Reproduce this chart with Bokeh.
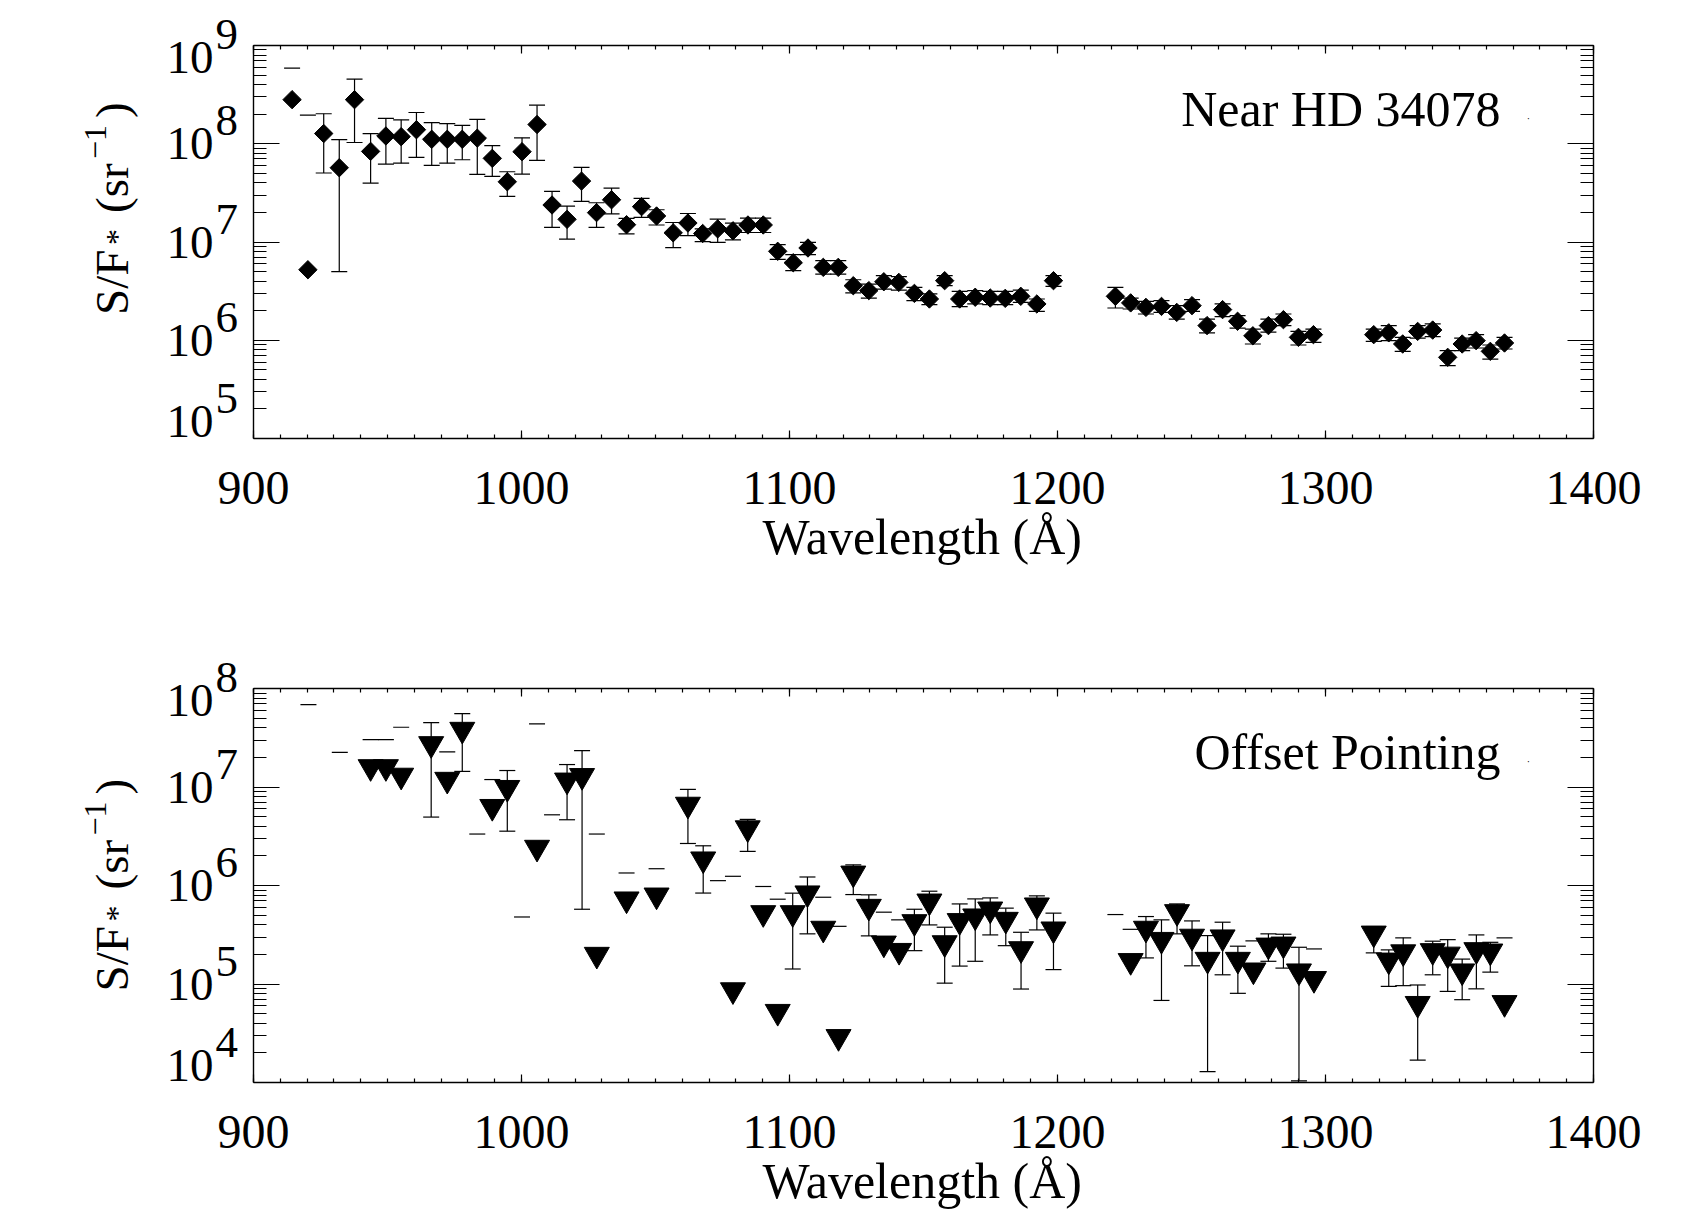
import math
from bokeh.plotting import figure
from bokeh.layouts import column
from bokeh.models import (FixedTicker, LinearAxis, LogAxis, Label, Range1d, Title,
                          ColumnDataSource, CustomJSTickFormatter)
from bokeh.embed import file_html
from bokeh.resources import INLINE

nan = float("nan")

# ---------------- data: top panel (Near HD 34078) ----------------
top_wave = [914.4, 920.3, 926.2, 932.0, 937.7, 943.7, 949.4, 955.1, 960.8, 966.5,
            972.3, 977.9, 983.5, 989.1, 994.7, 1000.2, 1005.8, 1011.4, 1017.0, 1022.4,
            1028.0, 1033.6, 1039.2, 1044.8, 1050.4, 1056.6, 1062.1, 1067.6, 1073.2, 1078.9,
            1084.5, 1090.2, 1095.6, 1101.4, 1106.9, 1112.6, 1118.2, 1123.8, 1129.6, 1135.2,
            1140.8, 1146.6, 1152.2, 1157.9, 1163.5, 1169.3, 1174.9, 1180.5, 1186.3, 1192.3,
            1198.5, 1221.6, 1227.3, 1233.0, 1238.8, 1244.5, 1250.2, 1255.8, 1261.6, 1267.2,
            1272.9, 1278.7, 1284.3, 1289.9, 1295.5, 1318.0, 1323.6, 1328.8, 1334.4, 1340.0,
            1345.6, 1351.0, 1356.2, 1361.5, 1366.8]
top_value = [2.81e8, 5.22e6, 1.27e8, 5.70e7, 2.81e8, 8.36e7, 1.20e8, 1.18e8, 1.39e8, 1.11e8,
             1.11e8, 1.11e8, 1.14e8, 7.10e7, 4.10e7, 8.30e7, 1.57e8, 2.38e7, 1.70e7, 4.17e7,
             1.99e7, 2.69e7, 1.50e7, 2.29e7, 1.84e7, 1.24e7, 1.56e7, 1.22e7, 1.36e7, 1.30e7,
             1.49e7, 1.49e7, 8.04e6, 6.15e6, 8.69e6, 5.52e6, 5.52e6, 3.59e6, 3.20e6, 3.94e6,
             3.88e6, 3.00e6, 2.63e6, 4.04e6, 2.63e6, 2.74e6, 2.69e6, 2.67e6, 2.80e6, 2.34e6,
             4.04e6, 2.80e6, 2.40e6, 2.16e6, 2.21e6, 1.92e6, 2.25e6, 1.41e6, 2.05e6, 1.56e6,
             1.11e6, 1.41e6, 1.62e6, 1.07e6, 1.14e6, 1.14e6, 1.19e6, 9.16e5, 1.23e6, 1.27e6,
             6.70e5, 9.16e5, 9.91e5, 7.71e5, 9.38e5]
top_upper = [5.89e8, 1.96e8, 2.02e8, 1.10e8, 4.55e8, 1.27e8, 1.81e8, 1.75e8, 2.08e8, 1.64e8,
             1.60e8, 1.54e8, 1.77e8, 9.55e7, 5.19e7, 1.15e8, 2.47e8, 3.27e7, 2.32e7, 5.74e7,
             2.51e7, 3.54e7, 1.74e7, 2.78e7, 2.13e7, 1.58e7, 1.95e7, 1.36e7, 1.71e7, 1.56e7,
             1.75e7, 1.75e7, 9.40e6, 7.43e6, 9.91e6, 6.46e6, 6.46e6, 4.13e6, 3.73e6, 4.54e6,
             4.44e6, 3.45e6, 2.96e6, 4.54e6, 3.15e6, 3.20e6, 3.15e6, 3.15e6, 3.24e6, 2.63e6,
             4.54e6, 3.45e6, 2.69e6, 2.49e6, 2.53e6, 2.25e6, 2.59e6, 1.64e6, 2.34e6, 1.78e6,
             1.30e6, 1.64e6, 1.85e6, 1.23e6, 1.30e6, 1.30e6, 1.41e6, 1.07e6, 1.41e6, 1.47e6,
             7.83e5, 1.05e6, 1.14e6, 8.95e5, 1.07e6]
top_lower = [nan, nan, 5.04e7, 4.99e6, 1.03e8, 3.98e7, 6.21e7, 6.35e7, 7.26e7, 6.03e7,
             6.35e7, 6.87e7, 4.88e7, 4.66e7, 2.91e7, 4.91e7, 6.78e7, 1.41e7, 1.07e7, 2.59e7,
             1.41e7, 1.93e7, 1.21e7, 1.78e7, 1.49e7, 8.75e6, 1.16e7, 1.01e7, 9.91e6, 1.05e7,
             1.25e7, 1.25e7, 6.65e6, 5.11e6, 7.43e6, 4.72e6, 4.72e6, 3.03e6, 2.69e6, 3.32e6,
             3.24e6, 2.53e6, 2.30e6, 3.59e6, 2.20e6, 2.34e6, 2.30e6, 2.30e6, 2.43e6, 1.97e6,
             3.54e6, 2.13e6, 2.08e6, 1.85e6, 1.92e6, 1.64e6, 1.97e6, 1.19e6, 1.74e6, 1.33e6,
             9.16e5, 1.21e6, 1.41e6, 8.95e5, 9.53e5, 9.75e5, 9.91e5, 7.71e5, 1.05e6, 1.09e6,
             5.52e5, 7.83e5, 8.34e5, 6.44e5, 8.15e5]

# ---------------- data: bottom panel (Offset Pointing) ----------------
bot_wave = [920.5, 932.2, 943.7, 949.4, 955.1, 966.3, 972.3, 977.9, 983.5, 989.1,
            994.7, 1000.2, 1005.8, 1011.4, 1017.0, 1022.6, 1028.1, 1039.2, 1050.4, 1062.1,
            1067.8, 1073.3, 1078.9, 1084.4, 1090.2, 1095.6, 1101.2, 1106.7, 1112.6, 1118.3,
            1123.8, 1129.6, 1135.2, 1140.9, 1146.6, 1152.2, 1157.9, 1163.5, 1169.3, 1174.9,
            1180.7, 1186.4, 1192.3, 1198.5, 1221.6, 1227.3, 1233.0, 1238.8, 1244.6, 1250.2,
            1256.0, 1261.6, 1267.3, 1273.1, 1278.7, 1284.3, 1290.1, 1295.7, 1318.0, 1323.6,
            1329.0, 1334.4, 1340.0, 1345.6, 1351.0, 1356.3, 1361.5, 1366.8]
bot_value = [nan, nan, 1.60e7, 1.60e7, 1.31e7, 2.74e7, 1.19e7, 3.83e7, nan, 6.31e6,
             9.84e6, nan, 2.43e6, nan, 1.17e7, 1.30e7, 1.99e5, 7.26e5, 7.96e5, 6.65e6,
             1.85e6, nan, 8.69e4, 3.83e6, 5.27e5, 5.24e4, 5.27e5, 8.36e5, 3.66e5, 2.91e4,
             1.33e6, 6.11e5, 2.59e5, 2.18e5, 4.27e5, 6.92e5, 2.61e5, 4.38e5, 4.88e5, 5.74e5,
             4.51e5, 2.27e5, 6.31e5, 3.60e5, nan, 1.72e5, 3.66e5, 2.82e5, 5.40e5, 3.04e5,
             1.77e5, 2.99e5, 1.77e5, 1.38e5, 2.47e5, 2.53e5, 1.35e5, 1.13e5, 3.27e5, 1.74e5,
             2.11e5, 6.31e4, 2.17e5, 2.00e5, 1.35e5, 2.22e5, 2.15e5, 6.44e4]
bot_upper = [6.87e7, 2.25e7, 3.03e7, 3.03e7, 4.04e7, 4.51e7, 2.27e7, 5.56e7, 3.33e6, 1.19e7,
             1.47e7, 4.79e5, 4.37e7, 5.22e6, 1.69e7, 2.34e7, 3.33e6, 1.34e6, 1.48e6, 9.46e6,
             2.53e6, 1.12e6, 1.24e6, 4.69e6, 9.77e5, 7.26e5, 8.36e5, 1.22e6, 7.60e5, 3.85e5,
             1.62e6, 8.04e5, 5.36e5, 4.48e5, 5.74e5, 8.75e5, 3.77e5, 6.50e5, 7.31e5, 7.48e5,
             5.89e5, 3.35e5, 7.85e5, 5.24e5, 5.07e5, 3.59e5, 4.84e5, 4.48e5, 6.50e5, 4.37e5,
             3.10e5, 4.24e5, 2.42e5, 2.74e5, 3.23e5, 3.20e5, 2.36e5, 2.27e5, 3.83e5, 2.22e5,
             2.94e5, 9.77e4, 2.72e5, 2.82e5, 1.79e5, 3.15e5, 2.65e5, 2.94e5]
bot_lower = [nan, nan, nan, nan, nan, 4.95e6, nan, 1.44e7, nan, nan,
             3.56e6, nan, nan, nan, 4.65e6, 5.74e5, nan, nan, nan, 2.67e6,
             8.38e5, nan, nan, 2.22e6, nan, nan, 1.42e5, 3.23e5, nan, nan,
             8.09e5, 3.08e5, nan, nan, 2.18e5, 3.98e5, 1.02e5, 1.52e5, 1.70e5, 3.15e5,
             2.45e5, 8.89e4, 3.54e5, 1.40e5, nan, nan, 1.84e5, 6.81e4, 3.23e5, 1.53e5,
             1.29e4, 1.24e5, 8.04e4, nan, 1.70e5, 1.45e5, 1.04e4, nan, 2.07e5, 9.46e4,
             9.62e4, 1.69e4, 1.24e5, 8.41e4, 6.93e4, 8.93e4, 1.32e5, nan]

# ---------------- axes / texts ----------------
x_lim = (900, 1400)
x_ticks = [900, 1000, 1100, 1200, 1300, 1400]
x_minor_ticks = list(range(900, 1401, 10))
top_yticks = [1e5, 1e6, 1e7, 1e8, 1e9]
bot_yticks = [1e4, 1e5, 1e6, 1e7, 1e8]
x_title = "Wavelength (Å)"
y_title_parts = ["S/F", "*", "(sr", "\u22121", ")"]
top_legend = "Near HD 34078"
bot_legend = "Offset Pointing"

# ---------------- layout / style ----------------
FONT = "Liberation Serif"
FS = 47
PAGE_W = 1684
BOX_LEFT = 253          # pixel column of 900 Å
BOX_RIGHT = 1593        # pixel column of 1400 Å
X_TITLE_LEFT = 762      # pixel column where the x title starts
MID = 0.3375            # middle of the font box above the baseline, in em


def finite(v):
    return v == v


def minor_log(ticks):
    return [k * t for t in ticks[:-1] for k in range(2, 10)]


def make_panel(height, box_top, box_h, border_bottom, yticks, wave, value, upper, lower,
               marker, msize, mangle, legend, title_start):
    # the frame covers the whole canvas above the bottom axis; the plot box
    # (900-1400 Å, yticks[0]-yticks[-1]) is drawn with axes at fixed locations
    px_per_A = (BOX_RIGHT - BOX_LEFT) / (x_lim[1] - x_lim[0])
    xr = Range1d(x_lim[0] - BOX_LEFT / px_per_A, x_lim[1] + (PAGE_W - BOX_RIGHT) / px_per_A)
    px_per_dec = box_h / math.log10(yticks[-1] / yticks[0])
    yr = Range1d(yticks[0], yticks[-1] * 10 ** (box_top / px_per_dec))

    p = figure(width=PAGE_W, height=height, x_range=xr, y_range=yr, y_axis_type="log",
               x_axis_location=None, y_axis_location=None,
               output_backend="svg", toolbar_location=None,
               min_border_left=0, min_border_right=0, min_border_top=0,
               min_border_bottom=border_bottom)
    p.grid.visible = False
    p.outline_line_color = None
    p.background_fill_color = "white"
    p.border_fill_color = "white"

    blank = CustomJSTickFormatter(code="return ''")

    bottom = LinearAxis(ticker=FixedTicker(ticks=x_ticks, minor_ticks=x_minor_ticks),
                        bounds=x_lim)
    bottom.major_label_text_font = FONT
    bottom.major_label_text_font_size = "48px"
    bottom.major_label_text_color = "black"
    bottom.major_label_standoff = 33
    p.add_layout(bottom, "below")
    p.add_layout(Title(text=x_title, align="left", offset=X_TITLE_LEFT, standoff=0,
                       text_font=FONT, text_font_size="50px", text_font_style="normal",
                       text_color="black"), "below")

    top_ax = LinearAxis(ticker=FixedTicker(ticks=x_ticks, minor_ticks=x_minor_ticks),
                        bounds=x_lim, fixed_location=yticks[-1], formatter=blank)
    left_ax = LogAxis(ticker=FixedTicker(ticks=yticks, minor_ticks=minor_log(yticks)),
                      bounds=(yticks[0], yticks[-1]), fixed_location=x_lim[0],
                      formatter=blank)
    right_ax = LogAxis(ticker=FixedTicker(ticks=yticks, minor_ticks=minor_log(yticks)),
                       bounds=(yticks[0], yticks[-1]), fixed_location=x_lim[1],
                       formatter=blank)
    p.add_layout(top_ax, "above")
    p.add_layout(left_ax, "left")
    p.add_layout(right_ax, "right")
    for ax in (top_ax, left_ax, right_ax):
        ax.major_label_text_font_size = "0px"
        ax.major_label_standoff = 0

    for ax in (bottom, top_ax):
        ax.major_tick_in = 8
        ax.major_tick_out = 0
        ax.minor_tick_in = 4
        ax.minor_tick_out = 0
    for ax in (left_ax, right_ax):
        ax.major_tick_in = 26
        ax.major_tick_out = 0
        ax.minor_tick_in = 13
        ax.minor_tick_out = 0
    for ax in (bottom, top_ax, left_ax, right_ax):
        ax.axis_line_color = "black"
        ax.axis_line_width = 1.4
        ax.major_tick_line_color = "black"
        ax.major_tick_line_width = 1.2
        ax.minor_tick_line_color = "black"
        ax.minor_tick_line_width = 1.2

    # error bars: vertical line only where the lower end exists, caps at each end
    seg = dict(x=[], lo=[], hi=[])
    caps = dict(x=[], y=[])
    for w, u, l in zip(wave, upper, lower):
        if finite(u):
            caps["x"].append(w)
            caps["y"].append(u)
        if finite(l):
            caps["x"].append(w)
            caps["y"].append(l)
            seg["x"].append(w)
            seg["lo"].append(l)
            seg["hi"].append(u)
    p.segment(x0="x", y0="lo", x1="x", y1="hi", source=ColumnDataSource(seg),
              line_color="black", line_width=1.2)
    p.scatter(x="x", y="y", source=ColumnDataSource(caps), marker="dash", size=16,
              line_color="black", line_width=1.2)

    pts = dict(x=[w for w, v in zip(wave, value) if finite(v)],
               y=[v for v in value if finite(v)])
    p.scatter(x="x", y="y", source=ColumnDataSource(pts), marker=marker, size=msize,
              angle=mangle, fill_color="black", line_color="black")

    # y tick labels: "10" with a raised exponent, kept inside the box at the ends
    n = len(yticks)
    for i, t in enumerate(yticks):
        shift = 17 if i == 0 else (-12 if i == n - 1 else 0)
        p.add_layout(Label(x=x_lim[0], y=t, text="10", x_offset=-40, y_offset=shift,
                           text_align="right", text_baseline="middle",
                           text_font=FONT, text_font_size=f"{FS}px", text_color="black"))
        p.add_layout(Label(x=x_lim[0], y=t, text=str(int(round(math.log10(t)))),
                           x_offset=-38, y_offset=23 + shift,
                           text_align="left", text_baseline="middle",
                           text_font=FONT, text_font_size="45px", text_color="black"))

    # rotated y title  S/F* (sr^-1)
    ymid = math.sqrt(yticks[0] * yticks[-1])
    base_dx = 127 - BOX_LEFT
    along = [0, 70, 102, 156, 197]
    raise_ = [0, 0, 0, 21, 0]
    sizes = [FS, 32, FS, 32, FS]
    for txt, a, r, fs in zip(y_title_parts, along, raise_, sizes):
        p.add_layout(Label(x=x_lim[0], y=ymid, text=txt, angle=math.pi / 2,
                           x_offset=base_dx - r - MID * fs, y_offset=title_start + a,
                           text_align="left", text_baseline="middle",
                           text_font=FONT, text_font_size=f"{fs}px", text_color="black"))

    # legend text and its tiny symbol (top-right corner of the box)
    p.add_layout(Label(x=x_lim[1], y=yticks[-1], text=legend, x_offset=-93, y_offset=-63,
                       text_align="right", text_baseline="middle",
                       text_font=FONT, text_font_size="50px", text_color="black"))
    p.add_layout(Label(x=x_lim[1], y=yticks[-1], text="\u00b7", x_offset=-65, y_offset=-73,
                       text_align="center", text_baseline="middle",
                       text_font=FONT, text_font_size="10px", text_color="black"))
    return p


p1 = make_panel(600, 45, 393, 162, top_yticks, top_wave, top_value, top_upper, top_lower,
                "square", 13, math.pi / 4, top_legend, -73)
p2 = make_panel(616, 88, 394, 134, bot_yticks, bot_wave, bot_value, bot_upper, bot_lower,
                "inverted_triangle", 25, 0, bot_legend, -106)

layout = column(p1, p2, spacing=0)
open("out.html", "w").write(file_html(layout, INLINE))
